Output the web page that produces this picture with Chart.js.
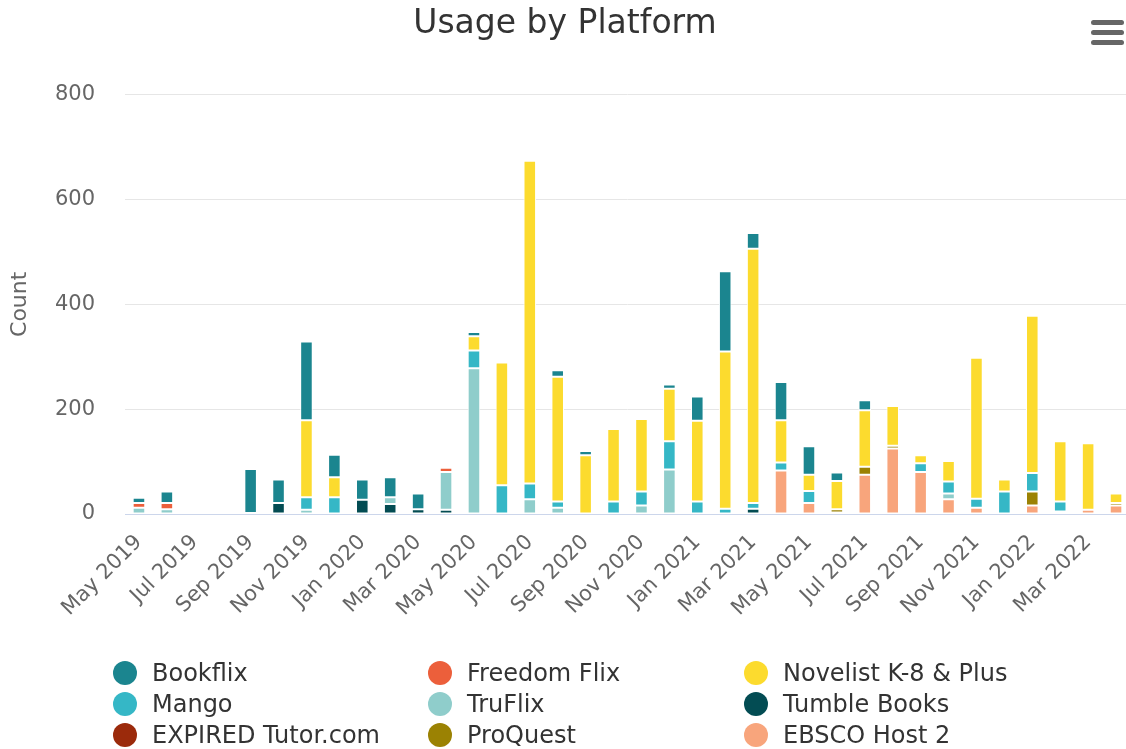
<!DOCTYPE html>
<html>
<head>
<meta charset="utf-8">
<title>Usage by Platform</title>
<script src="https://cdn.jsdelivr.net/npm/chart.js@4.4.1/dist/chart.umd.min.js"></script>
<style>
    html, body { margin: 0; padding: 0; background: #fff; overflow: hidden; }
    #wrap { position: relative; width: 1126px; height: 749px; overflow: hidden; }
    #chart { position: absolute; left: 0; top: 0; }
    .menu { position: absolute; left: 1091px; width: 33px; height: 5px; border-radius: 3px; background: #666; }
    #legend { position: absolute; left: 0; top: 0; font-family: 'DejaVu Sans', sans-serif; font-size: 24px; color: #333; }
    .item { position: absolute; white-space: nowrap; line-height: 28px; height: 28px; }
    .dot { position: absolute; width: 24px; height: 24px; border-radius: 50%; left: -39px; top: 2px; }
</style>
</head>
<body>
<div id="wrap">
    <canvas id="chart" width="1130" height="749"></canvas>
    <div class="menu" style="top:20px"></div>
    <div class="menu" style="top:30px"></div>
    <div class="menu" style="top:40px"></div>
    <div id="legend"></div>
</div>
<script>
// ===== DATA =====
const months = [
    'May 2019', 'Jun 2019', 'Jul 2019', 'Aug 2019', 'Sep 2019', 'Oct 2019', 'Nov 2019', 'Dec 2019',
    'Jan 2020', 'Feb 2020', 'Mar 2020', 'Apr 2020', 'May 2020', 'Jun 2020', 'Jul 2020', 'Aug 2020',
    'Sep 2020', 'Oct 2020', 'Nov 2020', 'Dec 2020', 'Jan 2021', 'Feb 2021', 'Mar 2021', 'Apr 2021',
    'May 2021', 'Jun 2021', 'Jul 2021', 'Aug 2021', 'Sep 2021', 'Oct 2021', 'Nov 2021', 'Dec 2021',
    'Jan 2022', 'Feb 2022', 'Mar 2022', 'Apr 2022'
];

const bookflix     = [10, 22, 0, 1, 84, 45, 150, 43, 39, 38, 30, 0, 8, 0, 0, 12, 8, 0, 0, 8, 46, 153, 30, 73, 54, 16, 19, 0, 0, 0, 0, 0, 0, 0, 0, 0];
const freedomFlix  = [9, 12, 0, 0, 0, 0, 0, 0, 0, 0, 0, 8, 0, 0, 0, 0, 0, 0, 0, 0, 0, 0, 0, 0, 0, 0, 0, 0, 0, 0, 0, 0, 0, 0, 0, 0];
const novelist     = [0, 0, 0, 0, 0, 0, 147, 38, 0, 0, 0, 0, 27, 234, 616, 238, 112, 138, 138, 100, 154, 300, 485, 81, 31, 54, 108, 76, 15, 39, 269, 23, 300, 115, 127, 18];
const mango        = [0, 0, 0, 0, 0, 0, 24, 32, 0, 0, 0, 0, 34, 55, 30, 12, 0, 24, 27, 54, 24, 10, 11, 15, 23, 0, 0, 0, 17, 23, 17, 43, 35, 19, 0, 0];
const truFlix      = [12, 9, 0, 0, 2, 0, 8, 0, 0, 13, 0, 72, 278, 0, 28, 12, 0, 0, 16, 85, 0, 0, 0, 0, 0, 0, 0, 0, 0, 11, 0, 0, 0, 0, 0, 0];
const tumbleBooks  = [0, 0, 0, 0, 0, 21, 0, 0, 27, 19, 9, 8, 0, 0, 0, 0, 0, 0, 0, 0, 0, 0, 10, 0, 0, 0, 0, 0, 0, 0, 0, 0, 0, 0, 0, 0];
const tutorCom     = [0, 0, 0, 0, 0, 0, 0, 0, 0, 0, 0, 0, 0, 0, 0, 0, 0, 0, 0, 0, 0, 0, 0, 0, 0, 0, 0, 0, 0, 0, 0, 0, 0, 0, 0, 0];
const proQuest     = [0, 0, 0, 0, 0, 0, 0, 0, 0, 0, 0, 0, 0, 0, 0, 0, 0, 0, 0, 0, 0, 0, 0, 0, 0, 6, 15, 5, 0, 0, 0, 0, 27, 0, 0, 5];
const ebscoHost    = [0, 0, 0, 0, 0, 0, 0, 0, 0, 0, 0, 0, 0, 0, 0, 0, 0, 0, 0, 0, 0, 0, 0, 83, 21, 3, 75, 125, 80, 28, 12, 0, 16, 5, 8, 16];

const yTicks = [0, 200, 400, 600, 800];

// legend order (Highcharts puts the first series on top of the stack)
const series = [
    { name: 'Bookflix',            data: bookflix,    color: '#1b858f' },
    { name: 'Freedom Flix',        data: freedomFlix, color: '#ec5f3b' },
    { name: 'Novelist K-8 & Plus', data: novelist,    color: '#fcdb2e' },
    { name: 'Mango',               data: mango,       color: '#35b7c6' },
    { name: 'TruFlix',             data: truFlix,     color: '#8fcdcb' },
    { name: 'Tumble Books',        data: tumbleBooks, color: '#034c53' },
    { name: 'EXPIRED Tutor.com',   data: tutorCom,    color: '#9b2a0b' },
    { name: 'ProQuest',            data: proQuest,    color: '#9b8203' },
    { name: 'EBSCO Host 2',        data: ebscoHost,   color: '#f8a57c' }
];

Chart.defaults.font.family = "'DejaVu Sans', sans-serif";

// Chart.js stacks the first dataset at the bottom, so reverse
const datasets = series.slice().reverse().map(s => ({
    label: s.name,
    data: s.data,
    backgroundColor: s.color,
    borderColor: '#ffffff',
    borderWidth: 1,
    borderSkipped: false,
    categoryPercentage: 1,
    barPercentage: 0.45
}));

const ctx = document.getElementById('chart').getContext('2d');
new Chart(ctx, {
    type: 'bar',
    data: { labels: months, datasets: datasets },
    options: {
        responsive: false,
        animation: false,
        events: [],
        layout: { padding: { left: 0, right: 0, top: 0, bottom: 125 } },
        plugins: {
            legend: { display: false },
            tooltip: { enabled: false },
            title: {
                display: true,
                text: 'Usage by Platform',
                color: '#333333',
                font: { size: 33, weight: 'normal', lineHeight: 1.2 },
                padding: { top: 5, bottom: 50 }
            }
        },
        scales: {
            x: {
                stacked: true,
                grid: { display: false, drawTicks: false },
                border: { display: true, color: '#ccd6eb', width: 1 },
                ticks: {
                    autoSkip: false,
                    minRotation: 45,
                    maxRotation: 45,
                    padding: 16,
                    color: '#666666',
                    font: { size: 21 },
                    callback: function (value, index) {
                        return index % 2 === 0 ? this.getLabelForValue(value) : '';
                    }
                },
                afterFit: scale => {
                    scale.height = 110;
                    scale.paddingRight = 0;
                }
            },
            y: {
                stacked: true,
                min: 0,
                max: 800,
                afterBuildTicks: scale => { scale.ticks = yTicks.map(v => ({ value: v })); },
                grid: { color: '#e6e6e6', drawTicks: false },
                border: { display: false },
                ticks: { color: '#666666', font: { size: 21 }, padding: 30 },
                title: {
                    display: true,
                    text: 'Count',
                    color: '#666666',
                    font: { size: 22 },
                    padding: { top: 7, bottom: 0 }
                },
                afterFit: scale => { scale.width = 125; }
            }
        }
    }
});

// legend laid out as a 3-column grid like the original
const legendEl = document.getElementById('legend');
const colX = [152, 467, 783];
const rowY = [659, 690, 721];
series.forEach((s, i) => {
    const item = document.createElement('div');
    item.className = 'item';
    item.style.left = colX[i % 3] + 'px';
    item.style.top = rowY[Math.floor(i / 3)] + 'px';
    const dot = document.createElement('span');
    dot.className = 'dot';
    dot.style.background = s.color;
    item.appendChild(dot);
    item.appendChild(document.createTextNode(s.name));
    legendEl.appendChild(item);
});
</script>
</body>
</html>
